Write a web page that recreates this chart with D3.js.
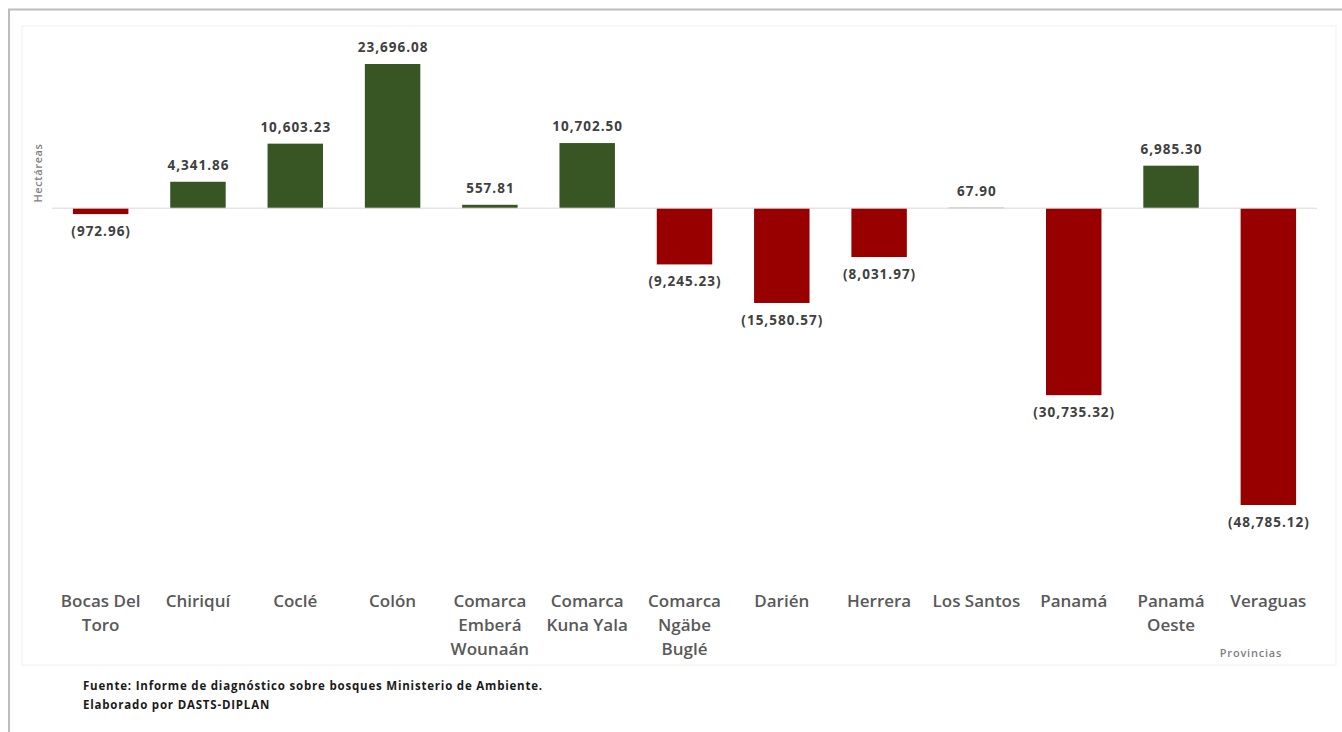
<!DOCTYPE html>
<html>
<head>
<meta charset="utf-8">
<script src="https://cdn.jsdelivr.net/npm/d3@7"></script>
<style>
  html, body { margin: 0; padding: 0; background: #fff; }
  svg { display: block; }
</style>
</head>
<body>
<svg id="chart" width="1342" height="732"></svg>
<script>
// Forest cover change by province (hectares)
const provinces = [
  ["Bocas Del", "Toro"], ["Chiriquí"], ["Coclé"], ["Colón"],
  ["Comarca", "Emberá", "Wounaán"], ["Comarca", "Kuna Yala"],
  ["Comarca", "Ngäbe", "Buglé"], ["Darién"], ["Herrera"], ["Los Santos"],
  ["Panamá"], ["Panamá", "Oeste"], ["Veraguas"]
];
const hectares = [
  -972.96, 4341.86, 10603.23, 23696.08, 557.81, 10702.50,
  -9245.23, -15580.57, -8031.97, 67.90, -30735.32, 6985.30, -48785.12
];
const yTitle = "Hectáreas";
const xTitle = "Provincias";
const sourceLines = [
  "Fuente: Informe de diagnóstico sobre bosques Ministerio de Ambiente.",
  "Elaborado por DASTS-DIPLAN"
];

const svg = d3.select("#chart");
const GREEN = "#375623", RED = "#980000";
const FONT = "'Open Sans', sans-serif";

// outer frame (clipped on the right and bottom)
svg.append("path")
  .attr("d", "M9,732 V9.5 H1342")
  .attr("fill", "none").attr("stroke", "#bdbdbd").attr("stroke-width", 2);

// chart area
svg.append("rect")
  .attr("x", 22).attr("y", 26).attr("width", 1314).attr("height", 639)
  .attr("fill", "#fff").attr("stroke", "#f0f0f0").attr("stroke-width", 1);

const keys = d3.range(provinces.length);
const x = d3.scaleBand().domain(keys).range([52, 1317]).paddingInner(0.43).paddingOuter(0.215);
const y = d3.scaleLinear().domain([-48785.12, 23696.08]).range([505, 64]);

const fmt = d3.format(",.2f");
const labelOf = v => v < 0 ? "(" + fmt(-v) + ")" : fmt(v);

// bars
svg.append("g").selectAll("rect").data(hectares).join("rect")
  .attr("x", (d, i) => x(i))
  .attr("width", x.bandwidth())
  .attr("y", d => y(Math.max(0, d)))
  .attr("height", d => Math.abs(y(d) - y(0)))
  .attr("fill", d => d < 0 ? RED : GREEN);

// zero axis line
svg.append("line")
  .attr("x1", 52).attr("x2", 1317)
  .attr("y1", y(0)).attr("y2", y(0))
  .attr("stroke", "#d9d9d9").attr("stroke-width", 1);

// value labels
svg.append("g").selectAll("text").data(hectares).join("text")
  .attr("x", (d, i) => x(i) + x.bandwidth() / 2 + 0.5)
  .attr("y", d => d < 0 ? y(d) + 22 : y(d) - 12)
  .attr("text-anchor", "middle")
  .attr("font-family", FONT)
  .attr("font-weight", 700)
  .attr("font-size", 13.5)
  .attr("letter-spacing", 1)
  .attr("fill", "#404040")
  .text(labelOf);

// category labels
const cat = svg.append("g").selectAll("text").data(provinces).join("text")
  .attr("x", (d, i) => x(i) + x.bandwidth() / 2)
  .attr("y", 607)
  .attr("text-anchor", "middle")
  .attr("font-family", FONT)
  .attr("font-weight", 600)
  .attr("font-size", 17)
  .attr("fill", "#595959");
cat.selectAll("tspan").data(d => d).join("tspan")
  .attr("x", function () { return d3.select(this.parentNode).attr("x"); })
  .attr("dy", (d, j) => j === 0 ? 0 : 24)
  .text(d => d);

// axis titles
svg.append("text")
  .attr("transform", "translate(42,173) rotate(-90)")
  .attr("text-anchor", "middle")
  .attr("font-family", FONT)
  .attr("font-size", 11).attr("font-weight", 600)
  .attr("letter-spacing", 0.6)
  .attr("fill", "#7f7f7f")
  .text(yTitle);

svg.append("text")
  .attr("x", 1251).attr("y", 657)
  .attr("text-anchor", "middle")
  .attr("font-family", FONT)
  .attr("font-size", 11).attr("font-weight", 600)
  .attr("letter-spacing", 0.8)
  .attr("fill", "#7f7f7f")
  .text(xTitle);

// source note
svg.append("g").selectAll("text").data(sourceLines).join("text")
  .attr("x", 83).attr("y", (d, i) => 690 + i * 18.5)
  .attr("font-family", FONT)
  .attr("font-size", 11.5).attr("font-weight", 700)
  .attr("letter-spacing", 0.8)
  .attr("fill", "#1a1a1a")
  .text(d => d);
</script>
</body>
</html>
